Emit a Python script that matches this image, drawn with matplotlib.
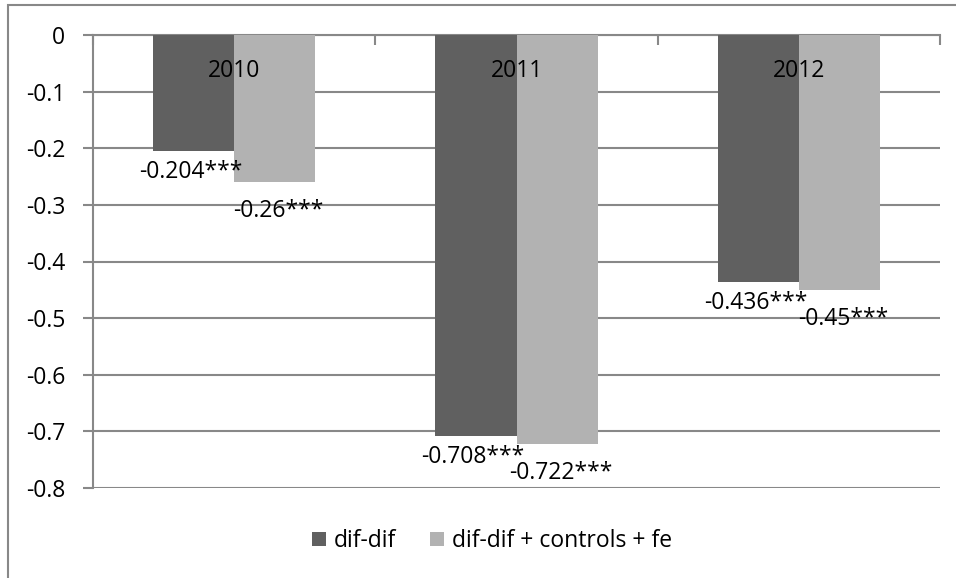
import matplotlib
matplotlib.use("Agg")
import matplotlib.pyplot as plt
from matplotlib.patches import Rectangle
import numpy as np

years = ["2010", "2011", "2012"]
series_names = ["dif-dif", "dif-dif + controls + fe"]
difdif = [-0.204, -0.708, -0.436]
difdif_full = [-0.26, -0.722, -0.45]
labels_difdif = ["-0.204***", "-0.708***", "-0.436***"]
labels_full = ["-0.26***", "-0.722***", "-0.45***"]
yticks = [0, -0.1, -0.2, -0.3, -0.4, -0.5, -0.6, -0.7, -0.8]

plt.rcParams["font.family"] = ["Open Sans", "DejaVu Sans"]
FS = 16.5
DARK = "#606060"
LIGHT = "#b2b2b2"
GRID = "#888888"

W, H = 956, 578
fig = plt.figure(figsize=(W / 100, H / 100), dpi=100)

# outer chart frame
fig.patches.append(Rectangle((8 / W, -0.1), 2.0, (H - 5) / H + 0.1,
                             transform=fig.transFigure, fill=False,
                             edgecolor=GRID, linewidth=1.5))

left, right, top, bottom = 93, 940, 35, 488
ax = fig.add_axes([left / W, (H - bottom) / H, (right - left) / W, (bottom - top) / H])

x = np.arange(len(years))
bw = 0.287
ax.bar(x - bw / 2, difdif, width=bw, color=DARK, zorder=3, label=series_names[0])
ax.bar(x + bw / 2, difdif_full, width=bw, color=LIGHT, zorder=3, label=series_names[1])

ax.set_xlim(-0.5, len(years) - 0.5)
ax.set_ylim(-0.8, 0)
ax.set_yticks(yticks)
ax.set_yticklabels(["0" if t == 0 else f"{t:.1f}" for t in yticks], fontsize=FS)
ax.yaxis.grid(True, color=GRID, linewidth=1.5, zorder=0)
ax.tick_params(axis="y", length=7, width=1.5, color=GRID, pad=13)

# category axis lies along zero (top edge)
ax.set_xticks(np.arange(len(years) + 1) - 0.5)
ax.set_xticklabels([])
ax.tick_params(axis="x", bottom=False, top=True, direction="in", length=7, width=1.5, color=GRID)
for s in ["right", "bottom"]:
    ax.spines[s].set_visible(False)
for s in ["left", "top"]:
    ax.spines[s].set_color(GRID)
    ax.spines[s].set_linewidth(1.5)

for i, yr in enumerate(years):
    ax.annotate(yr, xy=(i, 0), xytext=(0, -36), textcoords="offset pixels",
                ha="center", va="center", fontsize=FS, zorder=5)

for i in range(len(years)):
    ax.annotate(labels_difdif[i], xy=(x[i] - bw / 2, difdif[i]), xytext=(-3, -21),
                textcoords="offset pixels", ha="center", va="center", fontsize=FS, zorder=5)
    ax.annotate(labels_full[i], xy=(x[i] + bw / 2, difdif_full[i]), xytext=(4, -29),
                textcoords="offset pixels", ha="center", va="center", fontsize=FS, zorder=5)

fig.legend(loc="center", bbox_to_anchor=(492 / W, (H - 541) / H), ncol=2, frameon=False,
           fontsize=FS, handlelength=0.6, handleheight=0.6, handletextpad=0.35,
           columnspacing=1.5)

fig.savefig("out.png", dpi=100)
